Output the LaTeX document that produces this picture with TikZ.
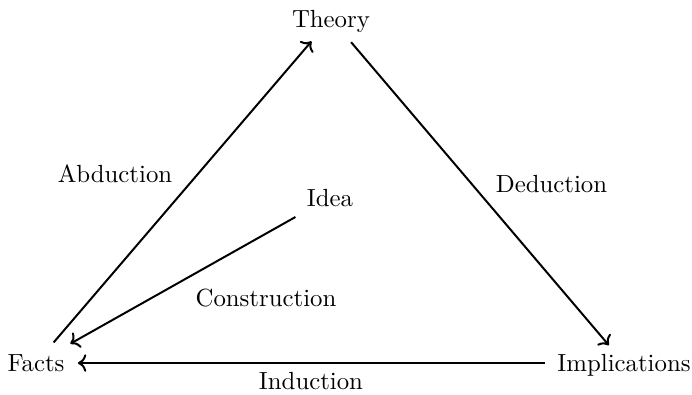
\documentclass[tikz,border=0pt]{standalone}
\usetikzlibrary{arrows.meta}
\begin{document}
\begin{tikzpicture}[x=0.4032pt, y=-0.4032pt,
    vertex/.style={inner sep=0pt, text height=6.83pt, text depth=0pt, anchor=base},
    edgelabel/.style={inner sep=0pt, anchor=base},
    link/.style={line width=0.8pt, ->}]
  \useasboundingbox (0,0) rectangle (692,394);

  % corners of the triangle and the idea in the middle
  \node[vertex] (theory) at (331,27) {Theory};
  \node[vertex] (facts) at (36,371.5) {Facts};
  \node[vertex] (impl) at (624,371.5) {Implications};
  \node[vertex] (idea) at (330,206) {Idea};

  % connectors
  \draw[link, shorten <=10.9pt, shorten >=12.1pt] (facts.center) -- (theory.center);
  \draw[link, shorten <=12.5pt, shorten >=9.4pt] (theory.center) -- (impl.center);
  \draw[link, shorten <=31.9pt, shorten >=16.9pt] (impl.center) -- (facts.center);
  \draw[link, shorten <=16pt, shorten >=15.9pt] (idea.center) -- (facts.center);

  % labels of the connectors
  \node[edgelabel] (abd) at (115,182.7) {Abduction};
  \node[edgelabel] (ded) at (551.5,192.7) {Deduction};
  \node[edgelabel] (con) at (266,306.5) {Construction};
  \node[edgelabel] (ind) at (311,389) {Induction};
\end{tikzpicture}
\end{document}
